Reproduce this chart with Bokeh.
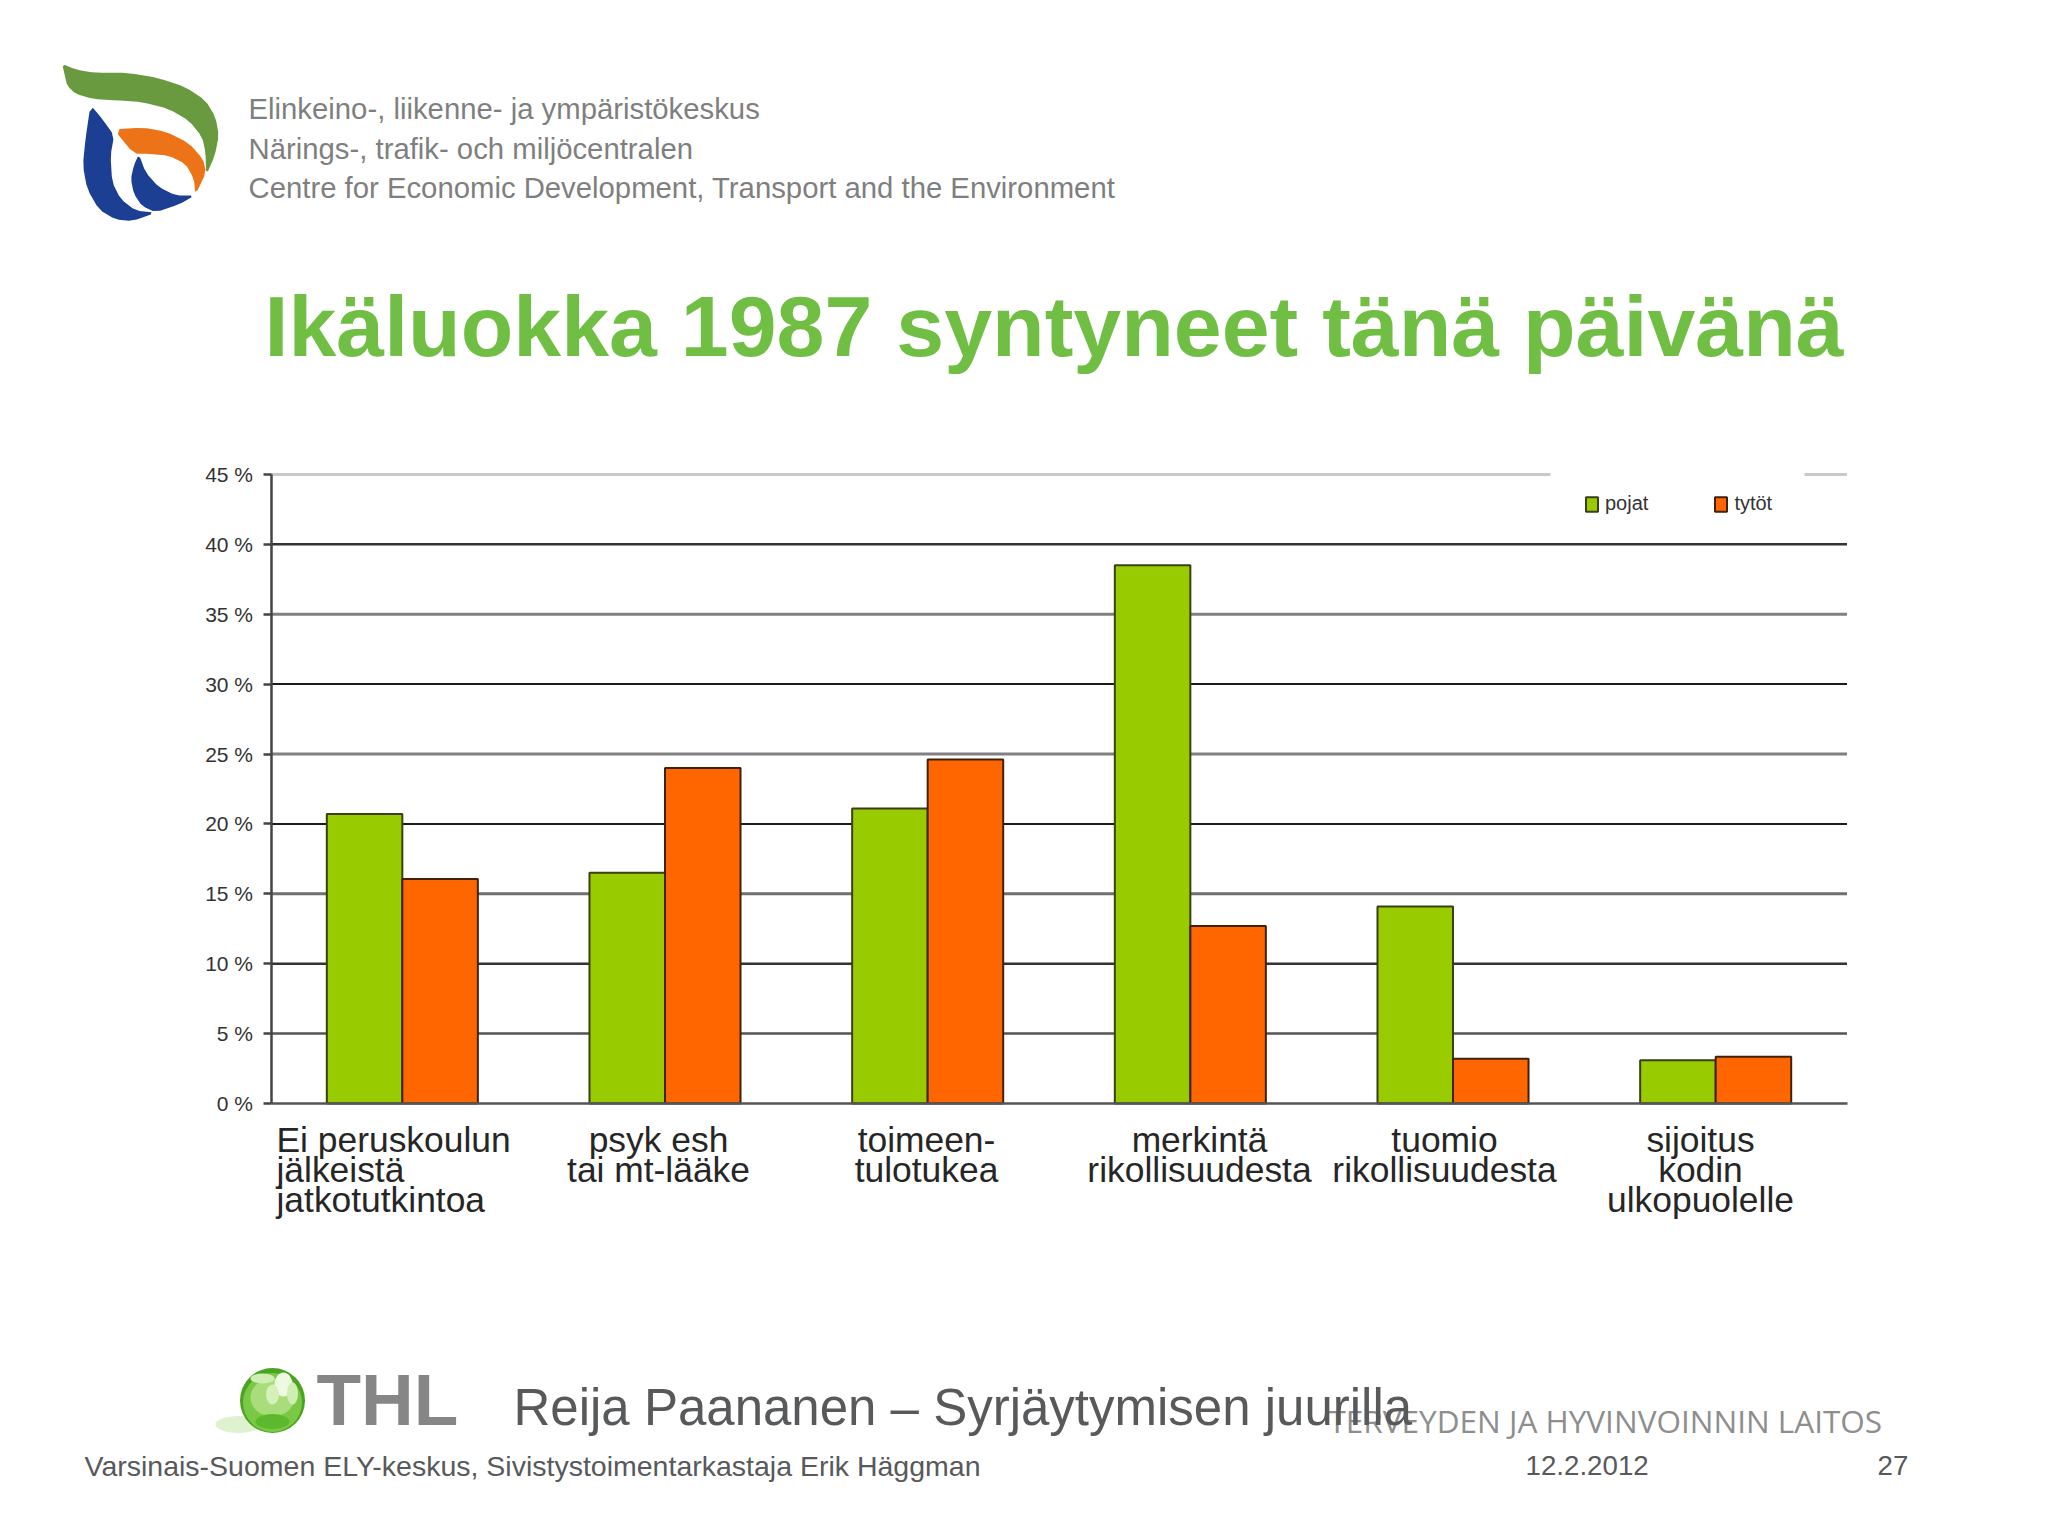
from bokeh.plotting import figure
from bokeh.embed import file_html
from bokeh.resources import INLINE
from bokeh.models import (Range1d, LinearAxis, FixedTicker, Label, Legend, LegendItem,
                          PrintfTickFormatter)

# ---- data ----
categories = ["Ei peruskoulun\njälkeistä\njatkotutkintoa", "psyk esh\ntai mt-lääke", "toimeen-\ntulotukea",
              "merkintä\nrikollisuudesta", "tuomio\nrikollisuudesta", "sijoitus\nkodin\nulkopuolelle"]
pojat = [20.7, 16.5, 21.1, 38.5, 14.1, 3.1]
tytot = [16.05, 24.0, 24.6, 12.7, 3.2, 3.35]
y_ticks = [0, 5, 10, 15, 20, 25, 30, 35, 40, 45]
series_names = ["pojat", "tytöt"]
title_text = "Ikäluokka 1987 syntyneet tänä päivänä"
header_lines = ["Elinkeino-, liikenne- ja ympäristökeskus", "Närings-, trafik- och miljöcentralen",
                "Centre for Economic Development, Transport and the Environment"]
subtitle_text = "Reija Paananen – Syrjäytymisen juurilla"
footer_text = "Varsinais-Suomen ELY-keskus, Sivistystoimentarkastaja Erik Häggman"
date_text = "12.2.2012"
page_text = "27"
thl_text = "THL"
thl_long = "TERVEYDEN JA HYVINVOINNIN LAITOS"

# ---- page geometry: the frame covers the whole canvas ----
W, H = 2032, 1520
PX0, PY0, UX, UY = 270.5, 1103.0, 262.67, 13.98
X = lambda px: (px - PX0) / UX
Y = lambda py: (PY0 - py) / UY

p = figure(width=W, height=H, output_backend="svg", toolbar_location=None,
           x_range=Range1d(X(0), X(W)), y_range=Range1d(Y(H), Y(0)),
           x_axis_location=None, y_axis_location=None, min_border=0,
           background_fill_color="#ffffff", border_fill_color="#ffffff", outline_line_color=None)
p.xgrid.visible = False
p.ygrid.visible = False


def grid(ticks, color, width):
    p.segment(x0=[0] * len(ticks), x1=[6] * len(ticks), y0=ticks, y1=ticks, line_color=color, line_width=width)


grid([45], "#c9c9c9", 3)
grid([35, 25], "#808080", 3)
grid([15], "#707070", 3)
grid([5], "#555555", 2.5)
grid([40, 10], "#333333", 2.5)
grid([30, 20], "#1c1c1c", 2)
# the legend's white box interrupts the top gridline
p.quad(left=[X(1550)], right=[X(1804)], bottom=[Y(480)], top=[Y(468)], fill_color="#ffffff", line_color=None)

# ---- bars ----
BW = 0.2875
idx = list(range(len(categories)))
r1 = p.vbar(x=[i + 0.5 - BW / 2 for i in idx], top=pojat, bottom=0, width=BW,
            fill_color="#99cc00", line_color="#3a3f1a", line_width=2)
r2 = p.vbar(x=[i + 0.5 + BW / 2 for i in idx], top=tytot, bottom=0, width=BW,
            fill_color="#ff6600", line_color="#3f2208", line_width=2)

# ---- axes ----
yaxis = LinearAxis(fixed_location=0, bounds=(0, 45), ticker=FixedTicker(ticks=y_ticks),
                   formatter=PrintfTickFormatter(format="%d %%"), major_tick_out=8, major_tick_in=0,
                   minor_tick_out=0, minor_tick_in=0, major_tick_line_color="#444444", major_tick_line_width=2.5,
                   axis_line_color="#444444", axis_line_width=2.5, major_label_standoff=10,
                   major_label_text_font="Liberation Sans", major_label_text_font_size="21px",
                   major_label_text_color="#333333")
p.add_layout(yaxis, "left")
xaxis = LinearAxis(fixed_location=0, bounds=(0, 6), ticker=FixedTicker(ticks=[]),
                   axis_line_color="#555555", axis_line_width=2.5)
p.add_layout(xaxis, "below")


# ---- texts ----
def text(px, py, s, size, color, align="left", baseline="middle", font="Liberation Sans", style="normal", lh=1.0):
    p.add_layout(Label(x=px, y=H - py, x_units="screen", y_units="screen", text=s,
                       text_font=font, text_font_size=f"{size}px", text_color=color, text_align=align,
                       text_baseline=baseline, text_font_style=style, text_line_height=lh))


cat_x = [276, 658, 926, 1199, 1444, 1700]
for i, c in enumerate(categories):
    text(cat_x[i], 1119, c, 35.4, "#262626", align="left" if i == 0 else "center", baseline="top", lh=0.76)

text(264, 325, title_text, 86.1, "#70bf44", style="bold")
for i, line in enumerate(header_lines):
    text(248, 108 + 39.5 * i, line, 29.3, "#7f7f7f")
text(1328, 1420, thl_long, 31.5, "#8e8e8e", font="Open Sans")
text(513, 1407, subtitle_text, 51, "#58595b")
text(84, 1465, footer_text, 28.5, "#58595b")
text(1525, 1465, date_text, 27.7, "#58595b")
text(1877, 1465, page_text, 27.7, "#58595b")
text(316, 1399, thl_text, 73, "#868686", style="bold")

# ---- legend ----
leg = Legend(items=[LegendItem(label=series_names[0], renderers=[r1]), LegendItem(label=series_names[1], renderers=[r2])],
             orientation="horizontal", location=(1584, H - 515), padding=0, margin=0, spacing=65,
             glyph_width=15, glyph_height=18, label_standoff=6, label_width=42, label_height=20,
             label_text_font="Liberation Sans", label_text_font_size="20px", label_text_color="#333333",
             border_line_color=None, background_fill_color="#ffffff", background_fill_alpha=0.0)
p.add_layout(leg, "center")


# ---- logos (decorative shapes in page pixels) ----
def smooth(points, rounds=1):
    for _ in range(rounds):
        out = []
        n = len(points)
        for i in range(n):
            a, b = points[i], points[(i + 1) % n]
            out.append((0.8 * a[0] + 0.2 * b[0], 0.8 * a[1] + 0.2 * b[1]))
            out.append((0.2 * a[0] + 0.8 * b[0], 0.2 * a[1] + 0.8 * b[1]))
        points = out
    return points


def poly(points, color, ox=55, oy=55, k=3.0):
    pts = smooth(points)
    p.patch([X(ox + a / k) for a, b in pts], [Y(oy + b / k) for a, b in pts], fill_color=color, line_color=None)


poly([(20, 25), (60, 42), (120, 52), (220, 52), (310, 68), (390, 95), (450, 135), (480, 185), (490, 240), (478, 300),
      (452, 360), (450, 290), (440, 245), (400, 195), (340, 160), (260, 140), (190, 135), (110, 130), (60, 115),
      (35, 90), (28, 60)], "#6a9a3f")
poly([(175, 222), (260, 216), (330, 228), (400, 263), (442, 310), (452, 350), (420, 418), (415, 370), (390, 325),
      (340, 300), (280, 295), (235, 295)], "#ec7318")
poly([(105, 148), (140, 190), (176, 240), (165, 300), (170, 380), (195, 430), (240, 465), (300, 472), (230, 497),
      (180, 492), (130, 462), (95, 400), (82, 330), (90, 250)], "#1c3f94")
poly([(250, 296), (270, 350), (310, 395), (360, 420), (418, 420), (370, 447), (300, 470), (260, 452), (235, 415),
      (226, 370), (235, 330)], "#1c3f94")


def ell(cx, cy, w, h, color):
    p.ellipse(x=[X(cx)], y=[Y(cy)], width=[w / UX], height=[h / UY], fill_color=color, line_color=None)


ell(238, 1424, 46, 17, "#dff2d0")
ell(272, 1400, 65, 65, "#4aa322")
ell(272, 1402, 59, 59, "#79c945")
ell(272, 1397, 44, 38, "#a9dd7c")
ell(272, 1421, 34, 15, "#5cb82c")
ell(262, 1378, 24, 10, "#cfeeb4")
ell(283, 1384, 18, 24, "#eef9e2")
ell(272, 1394, 13, 20, "#d5f0bb")
ell(292, 1393, 11, 22, "#cfeeb4")

open("out.html", "w").write(file_html(p, INLINE))
